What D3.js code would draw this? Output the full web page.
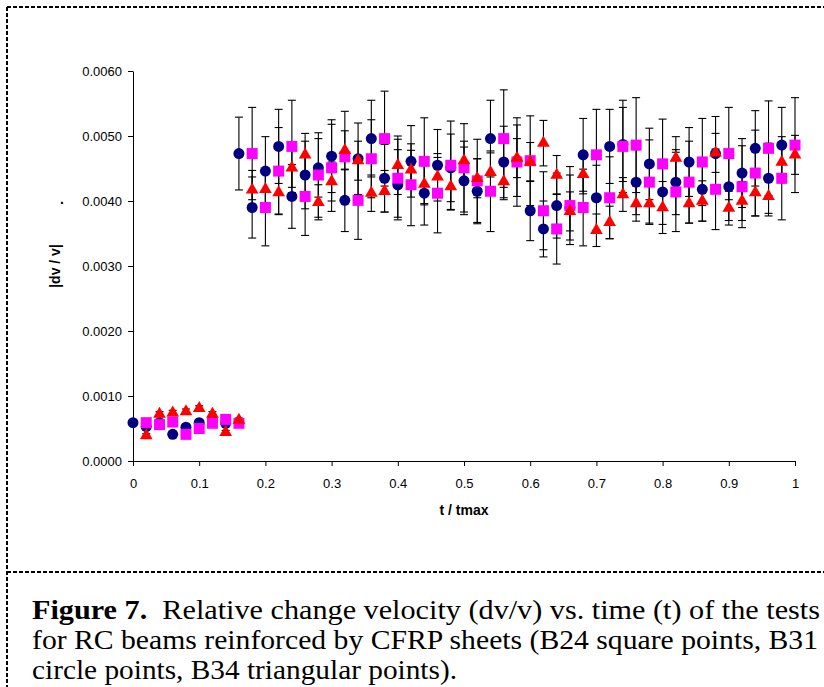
<!DOCTYPE html>
<html>
<head>
<meta charset="utf-8">
<script src="https://cdn.jsdelivr.net/npm/d3@7"></script>
<style>
  body { margin: 0; background: #fff; }
  svg { display: block; }
</style>
</head>
<body>
<div id="chart"></div>
<script>
// t / tmax positions
const tCircle = [0,0.02,0.04,0.06,0.08,0.10,0.12,0.14,0.16,0.18,0.20,0.22,0.24,0.26,0.28,0.30,0.32,0.34,0.36,0.38,0.40,0.42,0.44,0.46,0.48,0.50,0.52,0.54,0.56,0.58,0.60,0.62,0.64,0.66,0.68,0.70,0.72,0.74,0.76,0.78,0.80,0.82,0.84,0.86,0.88,0.90,0.92,0.94,0.96,0.98];
const tOther = [0.02,0.04,0.06,0.08,0.10,0.12,0.14,0.16,0.18,0.20,0.22,0.24,0.26,0.28,0.30,0.32,0.34,0.36,0.38,0.40,0.42,0.44,0.46,0.48,0.50,0.52,0.54,0.56,0.58,0.60,0.62,0.64,0.66,0.68,0.70,0.72,0.74,0.76,0.78,0.80,0.82,0.84,0.86,0.88,0.90,0.92,0.94,0.96,0.98,1.00];

// B31 - circle points
const circleVals = [0.00059,0.00053,0.00059,0.00041,0.00052,0.00059,0.00063,0.00058,0.00473,0.00390,0.00446,0.00484,0.00407,0.00440,0.00451,0.00469,0.00401,0.00465,0.00496,0.00435,0.00425,0.00461,0.00412,0.00455,0.00451,0.00431,0.00415,0.00496,0.00460,0.00462,0.00385,0.00357,0.00393,0.00390,0.00471,0.00405,0.00484,0.00487,0.00429,0.00457,0.00414,0.00429,0.00460,0.00418,0.00473,0.00422,0.00443,0.00481,0.00435,0.00486];
const circleErr = [0.00003,0.00004,0.00004,0.00003,0.00003,0.00004,0.00004,0.00004,0.00056,0.00047,0.00053,0.00057,0.00049,0.00052,0.00045,0.00056,0.00048,0.00055,0.00059,0.00052,0.00054,0.00055,0.00049,0.00055,0.00052,0.00052,0.00050,0.00059,0.00055,0.00055,0.00046,0.00043,0.00050,0.00050,0.00056,0.00050,0.00057,0.00057,0.00050,0.00055,0.00050,0.00050,0.00053,0.00049,0.00057,0.00052,0.00053,0.00058,0.00054,0.00058];

// B24 - square points
const squareVals = [0.00059,0.00056,0.00060,0.00041,0.00050,0.00058,0.00064,0.00058,0.00473,0.00390,0.00446,0.00484,0.00407,0.00440,0.00451,0.00468,0.00401,0.00465,0.00496,0.00435,0.00425,0.00461,0.00412,0.00455,0.00451,0.00431,0.00415,0.00496,0.00460,0.00462,0.00385,0.00357,0.00393,0.00390,0.00471,0.00405,0.00484,0.00486,0.00429,0.00457,0.00414,0.00429,0.00460,0.00418,0.00473,0.00422,0.00443,0.00481,0.00435,0.00486];
const squareErr = [0.00004,0.00005,0.00004,0.00003,0.00003,0.00004,0.00004,0.00004,0.00071,0.00059,0.00067,0.00071,0.00060,0.00065,0.00067,0.00070,0.00060,0.00060,0.00073,0.00060,0.00063,0.00067,0.00061,0.00068,0.00068,0.00064,0.00062,0.00075,0.00068,0.00069,0.00060,0.00054,0.00060,0.00059,0.00070,0.00063,0.00071,0.00073,0.00065,0.00069,0.00061,0.00063,0.00067,0.00062,0.00071,0.00063,0.00066,0.00073,0.00064,0.00073];

// B34 - triangular points
const triVals = [0.00039,0.00072,0.00074,0.00076,0.00081,0.00072,0.00044,0.00063,0.00417,0.00418,0.00413,0.00451,0.00471,0.00398,0.00430,0.00478,0.00462,0.00412,0.00415,0.00455,0.00448,0.00426,0.00437,0.00422,0.00462,0.00435,0.00444,0.00430,0.00466,0.00460,0.00489,0.00440,0.00384,0.00441,0.00355,0.00367,0.00410,0.00396,0.00396,0.00390,0.00466,0.00396,0.00400,0.00474,0.00389,0.00400,0.00413,0.00407,0.00460,0.00471];
const triErr = [0.00003,0.00004,0.00004,0.00004,0.00004,0.00004,0.00003,0.00003,0.00030,0.00025,0.00033,0.00030,0.00033,0.00027,0.00030,0.00030,0.00030,0.00028,0.00032,0.00045,0.00030,0.00030,0.00030,0.00036,0.00030,0.00030,0.00030,0.00028,0.00030,0.00030,0.00035,0.00030,0.00030,0.00030,0.00025,0.00025,0.00026,0.00027,0.00030,0.00040,0.00033,0.00030,0.00031,0.00030,0.00026,0.00030,0.00036,0.00030,0.00030,0.00030];

const xTicks = [0,0.1,0.2,0.3,0.4,0.5,0.6,0.7,0.8,0.9,1];
const yTicks = [0,0.001,0.002,0.003,0.004,0.005,0.006];
const caption = [
  ["Figure 7.", "  Relative change velocity (dv/v) vs. time (t) of the tests"],
  ["", "for RC beams reinforced by CFRP sheets (B24 square points, B31"],
  ["", "circle points, B34 triangular points)."]
];
const captionWidths = [788, 786, 425];

const W = 824, H = 687;
const svg = d3.select("#chart").append("svg")
  .attr("width", W).attr("height", H);

// dashed frame
const frame = svg.append("g")
  .attr("stroke", "#000").attr("stroke-width", 2)
  .attr("stroke-dasharray", "4,2").attr("fill", "none");
frame.append("line").attr("x1", 7).attr("x2", W).attr("y1", 7).attr("y2", 7);
frame.append("line").attr("x1", 7).attr("x2", 7).attr("y1", 7).attr("y2", H);
frame.append("line").attr("x1", 7).attr("x2", W).attr("y1", 572).attr("y2", 572);

// scales
const x = d3.scaleLinear().domain([0, 1]).range([133, 795]);
const y = d3.scaleLinear().domain([0, 0.006]).range([461, 71]);

const font = "'Liberation Sans', Arial, sans-serif";

// y axis
const yAxis = d3.axisLeft(y)
  .tickValues(yTicks)
  .tickFormat(d3.format(".4f"))
  .tickSize(5)
  .tickSizeOuter(0);
svg.append("g")
  .attr("transform", `translate(${x(0)},0)`)
  .call(yAxis)
  .call(g => g.selectAll("text").attr("font-family", font).attr("font-size", 13).attr("fill", "#000").attr("dx", "-3"))
  .call(g => g.selectAll("line,path").attr("stroke", "#000"));

// x axis
const xAxis = d3.axisBottom(x)
  .tickValues(xTicks)
  .tickFormat(d => d3.format("")(+d.toFixed(1)))
  .tickSize(5)
  .tickSizeOuter(0);
svg.append("g")
  .attr("transform", `translate(0,${y(0)})`)
  .call(xAxis)
  .call(g => g.selectAll("text").attr("font-family", font).attr("font-size", 13).attr("fill", "#000").attr("dy", "1.45em"))
  .call(g => g.selectAll("line,path").attr("stroke", "#000"));

// axis titles
svg.append("text")
  .attr("transform", `translate(60,${y(0.003)}) rotate(-90)`)
  .attr("text-anchor", "middle")
  .attr("font-family", font).attr("font-size", 14).attr("font-weight", "bold")
  .text("|dv / v|");
svg.append("text")
  .attr("x", 62).attr("y", 204)
  .attr("text-anchor", "middle")
  .attr("font-family", font).attr("font-size", 14).attr("font-weight", "bold")
  .text(".");
svg.append("text")
  .attr("x", x(0.5)).attr("y", 515)
  .attr("text-anchor", "middle")
  .attr("font-family", font).attr("font-size", 14).attr("font-weight", "bold")
  .text("t / tmax");

// series
const series = [
  { t: tCircle, v: circleVals, e: circleErr, sym: d3.symbolCircle, size: 95, color: "#000080" },
  { t: tOther, v: squareVals, e: squareErr, sym: d3.symbolSquare, size: 121, color: "#ff00ff" },
  { t: tOther, v: triVals, e: triErr, sym: d3.symbolTriangle, size: 70, color: "#ff0000" }
];

const cap = 4;
const bars = svg.append("g").attr("stroke", "#000").attr("stroke-width", 1.1);
series.forEach(s => {
  s.t.forEach((t, i) => {
    const cx = x(t), hi = y(s.v[i] + s.e[i]), lo = y(s.v[i] - s.e[i]);
    bars.append("line").attr("x1", cx).attr("x2", cx).attr("y1", hi).attr("y2", lo);
    bars.append("line").attr("x1", cx - cap).attr("x2", cx + cap).attr("y1", hi).attr("y2", hi);
    bars.append("line").attr("x1", cx - cap).attr("x2", cx + cap).attr("y1", lo).attr("y2", lo);
  });
});

series.forEach(s => {
  svg.append("g").selectAll("path")
    .data(s.t.map((t, i) => [t, s.v[i]]))
    .enter()
    .append("path")
    .attr("d", d3.symbol().type(s.sym).size(s.size))
    .attr("transform", d => `translate(${x(d[0])},${y(d[1])})`)
    .attr("fill", s.color);
});

// caption, each line stretched to the width it has in the figure
const capG = svg.append("g")
  .attr("font-family", "'Liberation Serif', 'Times New Roman', serif")
  .attr("font-size", 28).attr("fill", "#000");
caption.forEach((line, i) => {
  const t = capG.append("text")
    .attr("x", 32).attr("y", 619 + i * 30)
    .attr("textLength", captionWidths[i])
    .attr("lengthAdjust", "spacingAndGlyphs")
    .attr("xml:space", "preserve")
    .style("white-space", "pre");
  if (line[0]) t.append("tspan").attr("font-weight", "bold").text(line[0]);
  t.append("tspan").text(line[1]);
});
</script>
</body>
</html>
